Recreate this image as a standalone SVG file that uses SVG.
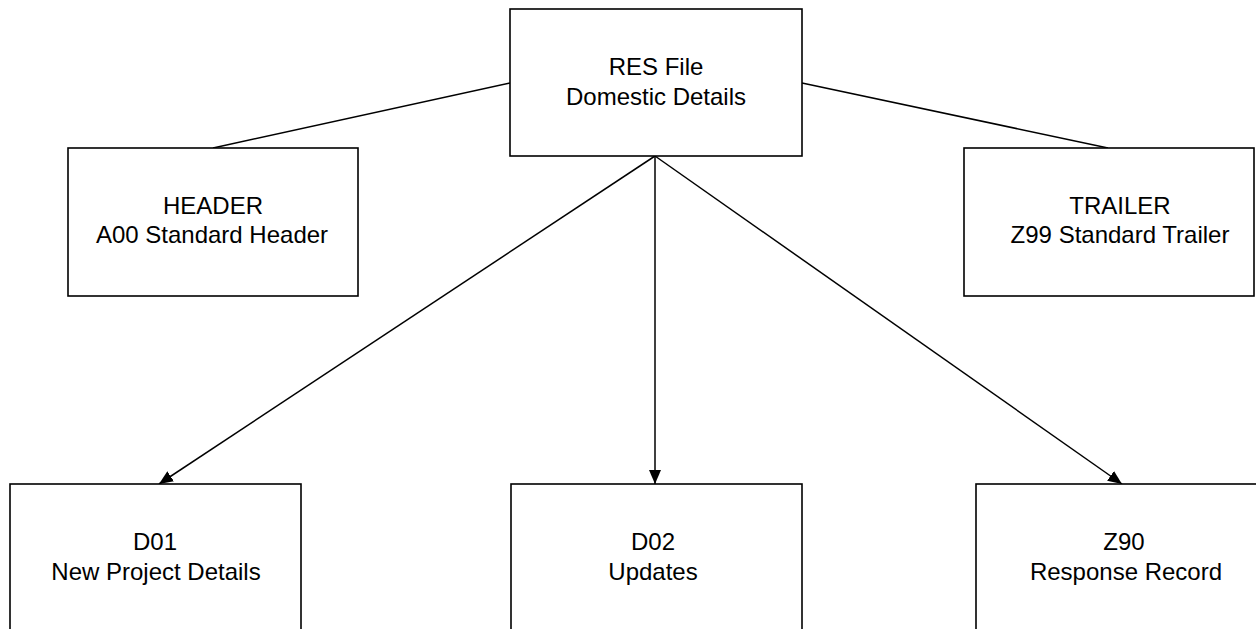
<svg xmlns="http://www.w3.org/2000/svg" width="1256" height="629" viewBox="0 0 1256 629">
<style>
.box{fill:#fff;stroke:#000;stroke-width:1.6}
.t{font-family:"Liberation Sans",Arial,sans-serif;font-size:24px;fill:#000;text-anchor:middle}
.c{stroke:#000;stroke-width:1.5;fill:none}
</style>
<defs>
<marker id="ah" markerUnits="userSpaceOnUse" markerWidth="14" markerHeight="12" refX="14" refY="6" orient="auto">
<path d="M0,0 L14,6 L0,12 z" fill="#000"/>
</marker>
</defs>
<g id="connectors">
<line class="c" x1="510" y1="83" x2="213" y2="148"/>
<line class="c" x1="802" y1="83" x2="1108" y2="148"/>
<line class="c" x1="655" y1="156" x2="159" y2="484" marker-end="url(#ah)"/>
<line class="c" x1="655" y1="156" x2="655" y2="484" marker-end="url(#ah)"/>
<line class="c" x1="655" y1="156" x2="1122" y2="484" marker-end="url(#ah)"/>
</g>
<g id="res">
<rect class="box" x="510" y="9" width="292" height="147"/>
<text class="t" x="656" y="75">RES File</text>
<text class="t" x="656" y="105">Domestic Details</text>
</g>
<g id="header">
<rect class="box" x="68" y="148" width="290" height="148"/>
<text class="t" x="213" y="214">HEADER</text>
<text class="t" x="212" y="243">A00 Standard Header</text>
</g>
<g id="trailer">
<rect class="box" x="964" y="148" width="290" height="148"/>
<text class="t" x="1120" y="214">TRAILER</text>
<text class="t" x="1120" y="243">Z99 Standard Trailer</text>
</g>
<g id="d01">
<rect class="box" x="10" y="484" width="291" height="148"/>
<text class="t" x="155" y="550">D01</text>
<text class="t" x="156" y="580">New Project Details</text>
</g>
<g id="d02">
<rect class="box" x="511" y="484" width="291" height="148"/>
<text class="t" x="653" y="550">D02</text>
<text class="t" x="653" y="580">Updates</text>
</g>
<g id="z90">
<rect class="box" x="976" y="484" width="291" height="148"/>
<text class="t" x="1124" y="550">Z90</text>
<text class="t" x="1126" y="580">Response Record</text>
</g>
</svg>
